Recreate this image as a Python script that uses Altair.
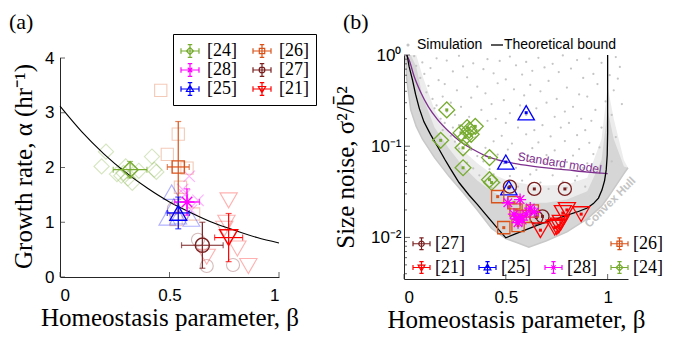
import altair as alt
import pandas as pd

# ================= Panel (a): growth rate vs homeostasis parameter =================
fit_beta = [0.0, 0.1, 0.2, 0.3, 0.4, 0.5, 0.6, 0.7, 0.8, 0.9, 1.0]
fit_alpha = [3.12, 2.65, 2.25, 1.91, 1.62, 1.37, 1.17, 0.99, 0.85, 0.72, 0.62]

# individual (faded) data points per source
a24_beta = [0.21, 0.19, 0.26, 0.28, 0.29, 0.30, 0.31, 0.33, 0.36, 0.42, 0.43, 0.44]
a24_alpha = [2.29, 2.02, 1.88, 1.85, 1.90, 2.02, 1.80, 1.72, 1.94, 2.20, 1.96, 1.92]
a26_beta = [0.46, 0.54, 0.49, 0.58, 0.55, 0.61, 0.53]
a26_alpha = [3.41, 2.61, 2.24, 1.99, 1.64, 1.15, 1.05]
a28_beta = [0.59, 0.63, 0.60, 0.56, 0.57]
a28_alpha = [1.84, 1.40, 1.22, 1.60, 1.50]
a25_beta = [0.51, 0.49, 0.60, 0.54, 0.52]
a25_alpha = [1.55, 1.08, 1.06, 1.10, 1.30]
a27_beta = [0.52, 0.63, 0.65, 0.67, 0.79]
a27_alpha = [1.25, 0.68, 0.60, 0.20, 0.22]
a21_beta = [0.77, 0.76, 0.81, 0.86, 0.67, 0.75]
a21_alpha = [1.40, 0.99, 0.52, 0.20, 0.37, 0.88]

# source means with error bars (legend order, column by column)
sources_a = ["[24]", "[28]", "[25]", "[26]", "[27]", "[21]"]
mean_beta = [0.32, 0.58, 0.54, 0.54, 0.65, 0.77]
err_beta = [0.077, 0.057, 0.05, 0.05, 0.095, 0.064]
mean_alpha = [1.96, 1.37, 1.17, 2.01, 0.58, 0.72]
err_alpha = [0.15, 0.24, 0.29, 0.83, 0.42, 0.44]
axis_a_span = [0, 4]

# ================= Panel (b): size noise vs homeostasis parameter =================
bound_beta = [0.015, 0.025, 0.041, 0.057, 0.075, 0.098, 0.13, 0.164, 0.2, 0.229, 0.27, 0.32,
              0.36, 0.4, 0.45, 0.5, 0.55, 0.6, 0.65, 0.7, 0.75, 0.8, 0.85, 0.9, 0.93, 0.955,
              0.972, 0.985, 0.993, 0.998, 1.0, 1.0]
bound_y = [1.0, 0.75, 0.54, 0.37, 0.26, 0.185, 0.135, 0.1, 0.072, 0.056, 0.04, 0.029,
           0.023, 0.018, 0.0133, 0.0099, 0.011, 0.0122, 0.0135, 0.0148, 0.016, 0.0175, 0.019,
           0.021, 0.0235, 0.027, 0.033, 0.042, 0.055, 0.08, 0.14, 1.0]

std_beta = [0.012, 0.025, 0.05, 0.082, 0.12, 0.164, 0.22, 0.278, 0.34, 0.392, 0.46, 0.54,
            0.62, 0.7, 0.8, 0.9, 1.0]
std_y = [1.0, 0.88, 0.58, 0.39, 0.27, 0.197, 0.145, 0.112, 0.092, 0.08, 0.071, 0.065,
         0.061, 0.058, 0.055, 0.052, 0.050]

hull_beta = [0.008, 0.013, 0.033, 0.06, 0.09, 0.15, 0.22, 0.29, 0.36, 0.43, 0.5, 0.56,
             0.613, 0.7, 0.8, 0.9, 0.97, 1.0, 1.03, 1.08, 1.1]
hull_y = [1.0, 0.55, 0.25, 0.165, 0.12, 0.075, 0.047, 0.031, 0.02, 0.0125, 0.0097, 0.0087,
          0.0078, 0.0092, 0.0115, 0.016, 0.022, 0.027, 0.034, 0.05, 0.058]
dense_hi = [1.0, 1.0, 1.0, 0.75, 0.36, 0.16, 0.095, 0.06, 0.042, 0.032, 0.027, 0.025,
            0.024, 0.024, 0.026, 0.032, 0.07, 0.25, 0.12, 0.06, 0.058]
light_hi = [1.0, 1.0, 1.0, 1.0, 0.6, 0.25, 0.14, 0.09, 0.065, 0.05, 0.043, 0.04,
            0.038, 0.037, 0.038, 0.045, 0.12, 0.45, 0.2, 0.07, 0.058]

# sparse simulation points (estimated positions)
sim_beta = [0.05, 0.16, 0.27, 0.41, 0.52, 0.66, 0.78, 0.91, 1.04,
            0.09, 0.21, 0.34, 0.47, 0.6, 0.73, 0.85, 0.97,
            0.06, 0.13, 0.29, 0.39, 0.55, 0.69, 0.82, 1.06,
            0.1, 0.24, 0.44, 0.58, 0.63, 0.76, 0.93, 1.01,
            0.08, 0.17, 0.31, 0.5, 0.71, 0.88, 1.05,
            0.12, 0.2, 0.36, 0.46, 0.62, 0.8, 0.95,
            0.11, 0.26, 0.4, 0.54, 0.67, 0.86, 1.03,
            0.14, 0.19, 0.33, 0.49, 0.59, 0.75, 0.9, 0.99,
            0.16, 0.23, 0.28, 0.43, 0.57, 0.7, 0.83, 1.07,
            0.15, 0.21, 0.38, 0.52, 0.65, 0.79, 0.94,
            0.18, 0.25, 0.32, 0.45, 0.6, 0.74, 0.87, 1.02,
            0.2, 0.27, 0.41, 0.5, 0.68, 0.81, 0.92,
            0.19, 0.24, 0.37, 0.56, 0.64, 0.77, 0.89, 0.97,
            0.23, 0.29, 0.35, 0.48, 0.6, 0.72, 0.85, 1.04,
            0.25, 0.31, 0.44, 0.53, 0.66, 0.79, 0.91,
            0.27, 0.33, 0.4, 0.51, 0.63, 0.74, 0.86, 0.96,
            0.29, 0.36, 0.46, 0.57, 0.7, 0.83, 0.93,
            0.31, 0.39, 0.49, 0.61, 0.69, 0.8, 0.9, 1.02,
            0.34, 0.42, 0.55, 0.65, 0.77, 0.88,
            0.37, 0.44, 0.52, 0.62, 0.73, 0.85,
            0.4, 0.47, 0.58, 0.67, 0.78, 0.84,
            0.43, 0.56, 0.71, 0.8, 0.89]
sim_y = [0.97, 0.92, 0.98, 0.9, 0.96, 0.93, 0.99, 0.91, 0.95,
         0.83, 0.87, 0.81, 0.86, 0.84, 0.8, 0.88, 0.82,
         0.76, 0.72, 0.75, 0.7, 0.77, 0.73, 0.71, 0.74,
         0.62, 0.66, 0.63, 0.61, 0.67, 0.65, 0.62, 0.6,
         0.56, 0.53, 0.57, 0.54, 0.52, 0.56, 0.55,
         0.46, 0.48, 0.45, 0.49, 0.47, 0.44, 0.48,
         0.39, 0.41, 0.38, 0.42, 0.4, 0.37, 0.41,
         0.33, 0.35, 0.34, 0.32, 0.36, 0.33, 0.35, 0.31,
         0.28, 0.3, 0.27, 0.29, 0.28, 0.3, 0.27, 0.29,
         0.26, 0.24, 0.25, 0.23, 0.26, 0.24, 0.25,
         0.2, 0.22, 0.21, 0.2, 0.22, 0.21, 0.2, 0.22,
         0.18, 0.17, 0.19, 0.18, 0.17, 0.18, 0.19,
         0.15, 0.16, 0.15, 0.16, 0.15, 0.16, 0.15, 0.16,
         0.13, 0.135, 0.125, 0.13, 0.135, 0.128, 0.132, 0.126,
         0.112, 0.108, 0.113, 0.107, 0.11, 0.114, 0.109,
         0.094, 0.091, 0.096, 0.092, 0.095, 0.09, 0.093, 0.097,
         0.08, 0.078, 0.081, 0.077, 0.08, 0.079, 0.082,
         0.066, 0.068, 0.065, 0.069, 0.066, 0.067, 0.065, 0.068,
         0.057, 0.056, 0.058, 0.055, 0.057, 0.058,
         0.048, 0.049, 0.047, 0.049, 0.048, 0.047,
         0.041, 0.04, 0.042, 0.04, 0.041, 0.042,
         0.035, 0.036, 0.034, 0.035, 0.036]

b24_beta = [0.21, 0.18, 0.28, 0.30, 0.31, 0.33, 0.35, 0.29, 0.29, 0.42, 0.42, 0.43, 0.32]
b24_y = [0.25, 0.116, 0.14, 0.125, 0.16, 0.135, 0.165, 0.096, 0.058, 0.075, 0.043, 0.040, 0.15]
b25_beta = [0.60, 0.50, 0.515]
b25_y = [0.233, 0.067, 0.035]
b27_beta = [0.52, 0.64, 0.79, 0.68, 0.65]
b27_y = [0.036, 0.034, 0.034, 0.017, 0.0165]
b26_beta = [0.46, 0.54, 0.55, 0.49, 0.56, 0.63, 0.59]
b26_y = [0.028, 0.024, 0.020, 0.0128, 0.0135, 0.0195, 0.017]
b28_beta = [0.51, 0.57, 0.54, 0.55, 0.57, 0.60, 0.62, 0.64, 0.58, 0.56]
b28_y = [0.024, 0.026, 0.018, 0.016, 0.017, 0.018, 0.021, 0.019, 0.0155, 0.0145]
b21_beta = [0.67, 0.74, 0.76, 0.77, 0.78, 0.80, 0.87, 0.75]
b21_y = [0.012, 0.0128, 0.0135, 0.0145, 0.0185, 0.020, 0.018, 0.013]

# legend entries, listed column by column (b1/b2 are empty cells)
sources_b = ["[27]", "[21]", "b1", "[25]", "b2", "[28]", "[26]", "[24]"]

ticks_a_y = [0, 1, 2, 3, 4]
ticks_x = [0, 0.5, 1]
ticks_b_major = [0.01, 0.1, 1.0]
ticks_b_minor = [0.004, 0.005, 0.006, 0.007, 0.008, 0.009, 0.02, 0.03, 0.04, 0.05, 0.06,
                 0.07, 0.08, 0.09, 0.2, 0.3, 0.4, 0.5, 0.6, 0.7, 0.8, 0.9]

# ================= styles =================
COL = {"[24]": "#77ac30", "[26]": "#d95319", "[28]": "#ff00ff",
       "[27]": "#7a1f1f", "[25]": "#0000ff", "[21]": "#ff0000"}
STAR = "M-1,0H1M0,-1V1M-0.7,-0.7L0.7,0.7M-0.7,0.7L0.7,-0.7"
XMARK = "M-0.8,-0.8L0.8,0.8M-0.8,0.8L0.8,-0.8"
SHP = {"[24]": "diamond", "[26]": "square", "[28]": STAR, "[27]": "circle",
       "[25]": "triangle-up", "[21]": "triangle-down"}
SHP_FADE = dict(SHP, **{"[28]": XMARK})
SIZE_A = {"[24]": 260, "[26]": 150, "[28]": 230, "[27]": 200, "[25]": 280, "[21]": 330}
SIZE_FADE = {"[24]": 230, "[26]": 150, "[28]": 200, "[27]": 170, "[25]": 280, "[21]": 300}
SIZE_B = {"[24]": 250, "[26]": 150, "[28]": 150, "[27]": 170, "[25]": 270, "[21]": 290}

EB = "M-1,0H1M-1,-0.3V0.3M1,-0.3V0.3M0,-0.7V0.7M-0.25,-0.7H0.25M-0.25,0.7H0.25"
MK = {"[24]": "M0,-0.4L0.4,0L0,0.4L-0.4,0Z",
      "[26]": "M-0.3,-0.3H0.3V0.3H-0.3Z",
      "[28]": "M-0.35,0H0.35M0,-0.35V0.35M-0.25,-0.25L0.25,0.25M-0.25,0.25L0.25,-0.25",
      "[27]": "M-0.32,0A0.32,0.32 0 1,0 0.32,0A0.32,0.32 0 1,0 -0.32,0",
      "[25]": "M0,-0.42L0.4,0.28L-0.4,0.28Z",
      "[21]": "M0,0.42L0.4,-0.28L-0.4,-0.28Z"}

SERIF = "Liberation Serif"
SANS = "Liberation Sans"
AXCOL = "#262626"

WA, HA = 219, 222
WB, HB = 224, 224


def axis(title, values, fmt=None, expr=None, lpad=6, tpad=4, domain=True):
    kw = dict(title=title, values=values, ticks=False, grid=False, domainColor=AXCOL,
              domain=domain,
              labelFont=SANS, labelFontSize=17, labelColor="black", labelPadding=lpad,
              titleFont=SERIF, titleFontSize=25, titleFontWeight="normal",
              titleColor="black", titlePadding=tpad)
    if fmt:
        kw["format"] = fmt
    if expr:
        kw["labelExpr"] = expr
    return alt.Axis(**kw)


AX_A_X = axis("Homeostasis parameter, β", ticks_x, fmt="~g", lpad=10, tpad=2)
AX_A_Y = axis("Growth rate, α (hr⁻¹)", ticks_a_y, fmt="d", lpad=6, tpad=8, domain=False)
AX_B_X = axis("Homeostasis parameter, β", ticks_x, fmt="~g", lpad=10, tpad=2)
AX_B_Y = axis("Size noise, σ²/b̄²", ticks_b_major,
              expr="datum.value >= 0.9 ? '10⁰' : datum.value >= 0.09 ? '10⁻¹' : '10⁻²'",
              lpad=3, tpad=12)

SC_A_X = alt.Scale(domain=[0, 1], nice=False, zero=False)
SC_A_Y = alt.Scale(domain=[0, 4.055], nice=False, zero=False)
SC_B_X = alt.Scale(domain=[0, 1.1], nice=False, zero=False)
SC_B_Y = alt.Scale(type="log", domain=[0.0035, 1], nice=False)


def XA(f):
    return alt.X(f, type="quantitative", scale=SC_A_X, axis=AX_A_X)


def YA(f):
    return alt.Y(f, type="quantitative", scale=SC_A_Y, axis=AX_A_Y)


def XB(f):
    return alt.X(f, type="quantitative", scale=SC_B_X, axis=AX_B_X)


def YB(f):
    return alt.Y(f, type="quantitative", scale=SC_B_Y, axis=AX_B_Y)


def text_layer(txt, x, y, size, font=SERIF, color="black", weight="normal", align="left"):
    return alt.Chart(pd.DataFrame({"t": [txt]})).mark_text(
        font=font, fontSize=size, color=color, fontWeight=weight, align=align,
        baseline="middle").encode(text="t:N", x=alt.value(x), y=alt.value(y))


# ================= build panel (a) =================
layers_a = []
# left axis line from 0 to 4
layers_a.append(alt.Chart(pd.DataFrame({"lo": [axis_a_span[0]], "hi": [axis_a_span[1]]})).mark_rule(
    color=AXCOL, strokeWidth=1).encode(x=alt.value(0.5), y=YA("lo"), y2="hi"))

faded_a = {"[24]": (a24_beta, a24_alpha), "[26]": (a26_beta, a26_alpha),
           "[28]": (a28_beta, a28_alpha), "[25]": (a25_beta, a25_alpha),
           "[27]": (a27_beta, a27_alpha), "[21]": (a21_beta, a21_alpha)}
for s, (bl, al) in faded_a.items():
    layers_a.append(alt.Chart(pd.DataFrame({"b": bl, "a": al})).mark_point(
        shape=SHP_FADE[s], size=SIZE_FADE[s], filled=False, color=COL[s],
        opacity=0.3, strokeWidth=1.1).encode(x=XA("b"), y=YA("a")))

layers_a.append(alt.Chart(pd.DataFrame({"b": fit_beta, "a": fit_alpha})).mark_line(
    color="black", strokeWidth=1.1, interpolate="monotone").encode(x=XA("b"), y=YA("a")))

mean_df = pd.DataFrame({"src": sources_a, "b": mean_beta, "eb": err_beta,
                        "a": mean_alpha, "ea": err_alpha})
for s in ["[24]", "[26]", "[28]", "[25]", "[27]", "[21]"]:
    base = alt.Chart(mean_df).transform_filter(alt.datum.src == s).transform_calculate(
        blo="datum.b - datum.eb", bhi="datum.b + datum.eb",
        alo="datum.a - datum.ea", ahi="datum.a + datum.ea")
    c = COL[s]
    layers_a += [
        base.mark_rule(color=c, strokeWidth=1.2).encode(x=XA("blo"), x2="bhi", y=YA("a")),
        base.mark_rule(color=c, strokeWidth=1.2).encode(x=XA("b"), y=YA("alo"), y2="ahi"),
        base.mark_tick(orient="vertical", size=6, thickness=1.2, color=c).encode(x=XA("blo"), y=YA("a")),
        base.mark_tick(orient="vertical", size=6, thickness=1.2, color=c).encode(x=XA("bhi"), y=YA("a")),
        base.mark_tick(orient="horizontal", size=6, thickness=1.2, color=c).encode(x=XA("b"), y=YA("alo")),
        base.mark_tick(orient="horizontal", size=6, thickness=1.2, color=c).encode(x=XA("b"), y=YA("ahi")),
        base.mark_point(shape=SHP[s], size=SIZE_A[s], filled=False, color=c,
                        strokeWidth=1.4, opacity=1).encode(x=XA("b"), y=YA("a")),
    ]

# inward ticks
layers_a.append(alt.Chart(pd.DataFrame({"v": ticks_a_y})).mark_tick(
    orient="horizontal", size=5, thickness=1, color=AXCOL).encode(y=YA("v"), x=alt.value(2.5)))
layers_a.append(alt.Chart(pd.DataFrame({"v": ticks_x})).mark_tick(
    orient="vertical", size=5, thickness=1, color=AXCOL).encode(x=XA("v"), y=alt.value(HA - 2.5)))

leg_a = alt.Legend(title=None, orient="none", legendX=113, legendY=-21, columns=2,
                   strokeColor="black", fillColor="white", padding=7, columnPadding=13,
                   rowPadding=0, labelFont=SERIF, labelFontSize=18, labelOffset=7,
                   symbolSize=324, symbolStrokeWidth=1.2, labelColor="black", cornerRadius=0)
layers_a.append(alt.Chart(pd.DataFrame({"srcA": sources_a})).transform_filter("false").mark_point(
    filled=False, size=324, strokeWidth=1.2, opacity=1).encode(
    x=alt.value(0), y=alt.value(0),
    color=alt.Color("srcA:N", scale=alt.Scale(domain=sources_a, range=[COL[s] for s in sources_a]),
                    legend=leg_a),
    shape=alt.Shape("srcA:N", scale=alt.Scale(domain=sources_a, range=[EB + MK[s] for s in sources_a]),
                    legend=leg_a)))
layers_a.append(text_layer("(a)", -51, -33, 22))

panel_a = alt.layer(*layers_a).properties(width=WA, height=HA)

# ================= build panel (b) =================
layers_b = []
area_df = pd.DataFrame({"b": hull_beta, "lo": hull_y, "hi": dense_hi, "hi2": light_hi})
layers_b.append(alt.Chart(area_df).mark_area(color="#ececec", interpolate="linear").encode(
    x=XB("b"), y=YB("hi2"), y2="lo"))
layers_b.append(alt.Chart(area_df).mark_area(color="#d6d6d6", interpolate="linear").encode(
    x=XB("b"), y=YB("hi"), y2="lo"))
layers_b.append(alt.Chart(pd.DataFrame({"b": sim_beta, "y": sim_y})).mark_circle(
    size=5, color="#c4c4c4", opacity=1).encode(x=XB("b"), y=YB("y")))
layers_b.append(alt.Chart(pd.DataFrame({"b": hull_beta, "y": hull_y})).mark_line(
    color="#c8c8c8", strokeWidth=1.5).encode(x=XB("b"), y=YB("y")))
layers_b.append(alt.Chart(pd.DataFrame({"b": std_beta, "y": std_y})).mark_line(
    color="#7e2f8e", strokeWidth=1.3, interpolate="monotone").encode(x=XB("b"), y=YB("y")))
layers_b.append(alt.Chart(pd.DataFrame({"b": bound_beta, "y": bound_y,
                                        "i": list(range(len(bound_beta)))})).mark_line(
    color="black", strokeWidth=1.3).encode(x=XB("b"), y=YB("y"), order="i:Q"))

ann = pd.DataFrame({"b": [0.765], "y": [0.0655], "t": ["Standard model"]})
layers_b.append(alt.Chart(ann).mark_text(font=SANS, fontSize=12, color="#7e2f8e", angle=9).encode(
    x=XB("b"), y=YB("y"), text="t:N"))
ann2 = pd.DataFrame({"b": [1.015], "y": [0.024], "t": ["Convex Hull"]})
layers_b.append(alt.Chart(ann2).mark_text(font=SANS, fontSize=11.5, fontWeight="bold",
                                          color="#c4c4c4", angle=315).encode(
    x=XB("b"), y=YB("y"), text="t:N"))

faded_b = {"[24]": (b24_beta, b24_y), "[25]": (b25_beta, b25_y), "[27]": (b27_beta, b27_y),
           "[26]": (b26_beta, b26_y), "[28]": (b28_beta, b28_y), "[21]": (b21_beta, b21_y)}
for s, (bl, yl) in faded_b.items():
    d = pd.DataFrame({"b": bl, "y": yl})
    layers_b.append(alt.Chart(d).mark_point(shape=SHP[s], size=SIZE_B[s], filled=False,
                                            color=COL[s], strokeWidth=1.3, opacity=1).encode(
        x=XB("b"), y=YB("y")))
    layers_b.append(alt.Chart(d).mark_square(size=9, color=COL[s], opacity=1).encode(
        x=XB("b"), y=YB("y")))

layers_b.append(alt.Chart(pd.DataFrame({"v": ticks_b_major})).mark_tick(
    orient="horizontal", size=6, thickness=1, color=AXCOL).encode(y=YB("v"), x=alt.value(3)))
layers_b.append(alt.Chart(pd.DataFrame({"v": ticks_b_minor})).mark_tick(
    orient="horizontal", size=3, thickness=1, color=AXCOL).encode(y=YB("v"), x=alt.value(1.5)))
layers_b.append(alt.Chart(pd.DataFrame({"v": ticks_x})).mark_tick(
    orient="vertical", size=5, thickness=1, color=AXCOL).encode(x=XB("v"), y=alt.value(HB - 2.5)))

leg_b = alt.Legend(title=None, orient="none", legendX=8, legendY=178, columns=4,
                   padding=0, columnPadding=11, rowPadding=4, labelFont=SERIF,
                   labelFontSize=18, labelOffset=4, symbolSize=289, symbolStrokeWidth=1.2,
                   labelColor="black",
                   labelExpr="datum.label == 'b1' || datum.label == 'b2' ? '' : datum.label")
col_b = [COL.get(s, "transparent") for s in sources_b]
shp_b = [EB + MK[s] if s in MK else "circle" for s in sources_b]
layers_b.append(alt.Chart(pd.DataFrame({"srcB": sources_b})).transform_filter("false").mark_point(
    filled=False, size=289, strokeWidth=1.2, opacity=1).encode(
    x=alt.value(0), y=alt.value(0),
    color=alt.Color("srcB:N", scale=alt.Scale(domain=sources_b, range=col_b), legend=leg_b),
    shape=alt.Shape("srcB:N", scale=alt.Scale(domain=sources_b, range=shp_b), legend=leg_b)))

# top legend: Simulation / Theoretical bound
layers_b.append(alt.Chart(pd.DataFrame({"t": ["Simulation"]})).mark_circle(
    size=10, color="#c4c4c4", opacity=1).encode(x=alt.value(4), y=alt.value(-10)))
layers_b.append(text_layer("Simulation", 13, -10, 14, font=SANS))
layers_b.append(alt.Chart(pd.DataFrame({"t": ["bound"]})).mark_rule(
    color="black", strokeWidth=1.3).encode(x=alt.value(87), x2=alt.value(99), y=alt.value(-10)))
layers_b.append(text_layer("Theoretical bound", 100, -10, 14, font=SANS))
layers_b.append(text_layer("(b)", -61, -33, 22))

panel_b = alt.layer(*layers_b).properties(width=WB, height=HB)

chart = alt.hconcat(panel_a, panel_b, spacing=125, bounds="flush").resolve_scale(
    x="independent", y="independent", color="independent", shape="independent"
).resolve_legend(color="independent", shape="independent").properties(
    padding={"left": 1, "top": 3, "right": 5, "bottom": 5}, background="white"
).configure_view(strokeWidth=0).configure_axis(grid=False)

chart.save("out.html", embed_options={"renderer": "svg", "actions": False})
